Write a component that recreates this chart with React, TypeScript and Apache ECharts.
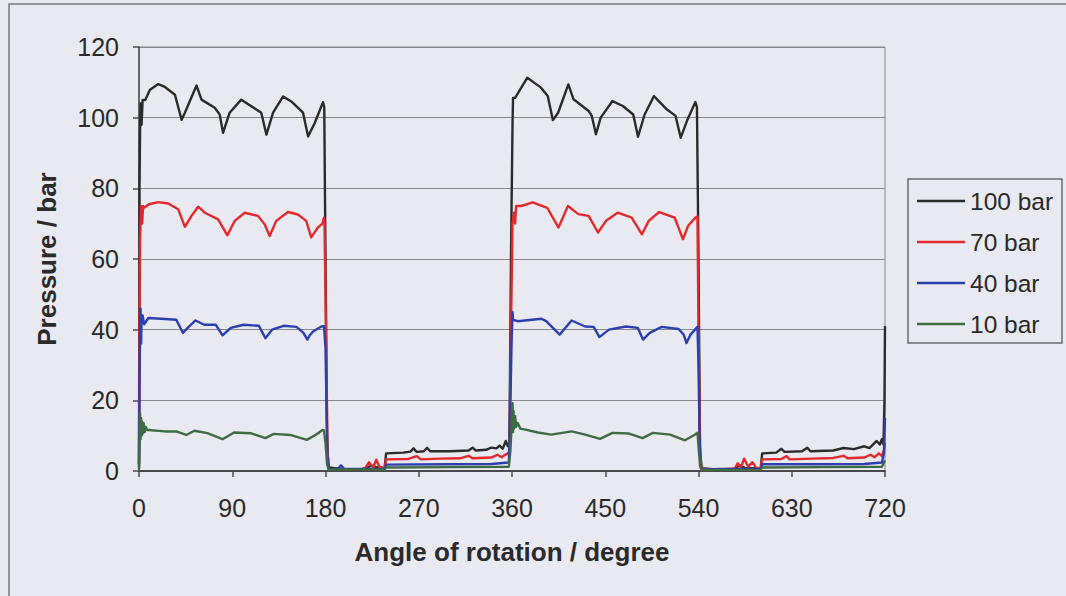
import React, { useEffect, useRef } from "react";
import * as echarts from "echarts";

const seriesNames = ["100 bar", "70 bar", "40 bar", "10 bar"];
const seriesColors = ["#2b2b2b", "#e3292b", "#2c3fae", "#3f6b42"];
const xTicks = { min: 0, max: 720, interval: 90 };
const yTicks = { min: 0, max: 120, interval: 20 };

const p100: [number, number][] = [
  [0, 2], [0.5, 80], [1, 96], [1.5, 104], [2.5, 98], [3.5, 105], [6, 105], [10.6, 107.9], [18.6, 109.5], [25, 108.7],
  [34.7, 106.5], [41.1, 99.4], [44.3, 101.4], [55.5, 109.1], [60.3, 105.1], [73.1, 102.8], [77.9, 100.9], [81.1, 95.7],
  [87.5, 101.4], [98.7, 105.1], [118, 101.4], [123, 95.2], [129.4, 101.4], [139.1, 106], [147, 104.6], [158.3, 101.4],
  [163.2, 94.7], [169.6, 98.5], [177.6, 104.4], [178.8, 103], [180, 60], [181.5, 8], [183, 1], [195, 0.6], [215, 0.5],
  [225, 1.5], [232, 0.8], [237, 0.8], [238.5, 5], [255, 5.2], [262, 5.5], [265, 6.4], [268, 5.4], [275, 5.6], [278, 6.6],
  [281, 5.6], [300, 5.6], [318, 5.8], [322, 6.6], [325, 5.8], [335, 6], [340, 6.6], [345, 6.4], [348, 7.2], [351, 6.3],
  [354, 8.5], [356, 7], [357.5, 8], [359, 60], [360.5, 98], [361, 105.6], [363, 105.6], [374.8, 111.3], [388, 108.5],
  [394.5, 106.1], [399.5, 99.3], [404.5, 101.4], [414.4, 109.4], [419.4, 105.2], [434, 101.9], [437, 100.5], [441, 95.3],
  [445.6, 100], [457, 104.7], [467, 103.3], [477, 100.9], [481.6, 94.6], [488, 100.9], [497, 106.1], [509.6, 102.3],
  [517.9, 100.5], [522.8, 94.3], [529.4, 99.5], [537, 104.4], [538.5, 103], [540, 60], [541.5, 6], [543, 0.8], [560, 0.4],
  [575, 0.6], [580, 1.6], [585, 0.8], [600, 0.8], [601.5, 5], [615, 5.2], [620, 6.3], [623, 5.4], [640, 5.6], [645, 6.6],
  [648, 5.6], [670, 5.8], [680, 6.5], [690, 6.2], [700, 7], [705, 6.5], [712, 8.5], [715, 7.5], [717, 9], [718.5, 7.5],
  [719.5, 20], [720, 41],
];

const p70: [number, number][] = [
  [0, 2], [0.5, 40], [1, 65], [2, 75], [3, 70], [4, 75], [5, 74.5], [9.7, 75.5], [18.6, 76.1], [28.2, 75.7], [37.8, 74.1],
  [44.3, 69.1], [50.7, 72.2], [57.1, 74.8], [63.5, 73.1], [76.4, 71.2], [85.3, 66.7], [92.4, 70.8], [102, 73.1],
  [114.9, 72.2], [121.3, 69.8], [126.1, 66.5], [132.5, 70.8], [143.8, 73.3], [153.4, 72.6], [161.4, 70.8], [166.2, 66.1],
  [172.6, 68.9], [177, 70], [178.4, 71.7], [179, 71], [180.5, 40], [182, 5], [183.5, 0.6], [200, 0.5], [218, 0.6],
  [222, 2.5], [226, 1], [229, 3.2], [232, 1.2], [237, 0.8], [238.5, 3.3], [260, 3.4], [268, 4.2], [272, 3.3], [290, 3.5],
  [310, 3.6], [318, 4.3], [322, 3.6], [340, 3.8], [346, 4.6], [350, 3.9], [353, 4.5], [356, 5], [357.5, 5.5], [359, 40],
  [360.5, 70], [362, 73.1], [363, 70], [364, 75], [369, 75], [380, 76], [394, 74.5], [404.9, 68.9], [414, 75], [424, 72.7],
  [434, 72.2], [443, 67.5], [450.8, 70.8], [462, 73.1], [475.5, 71.7], [485.4, 67], [492, 70.8], [502, 73.3], [517, 71.7],
  [525, 65.6], [530, 69.4], [537, 71.7], [539, 72], [540, 40], [541.5, 5], [543, 0.5], [565, 0.5], [575, 0.7], [578, 2.2],
  [581, 1], [584, 3.5], [588, 1.2], [592, 2.5], [596, 0.8], [600, 0.8], [601.5, 3.3], [620, 3.4], [625, 4.2], [628, 3.3],
  [650, 3.5], [670, 3.7], [680, 4.3], [684, 3.6], [700, 3.8], [706, 4.6], [710, 3.9], [714, 5], [717, 4.2], [719, 6],
  [720, 8],
];

const p40: [number, number][] = [
  [0, 1], [0.5, 25], [1, 38], [1.5, 46], [2, 36], [2.5, 42.4], [3.5, 44], [5, 41.5], [9, 43.3], [25, 43], [36, 42.8],
  [42.4, 39.1], [47, 40.5], [54.5, 42.6], [63, 41.4], [74, 41.4], [80.6, 38.4], [88.6, 40.5], [101, 41.4], [115.7, 41.1],
  [122, 37.6], [128.4, 40], [139.6, 41.1], [152, 40.8], [158.7, 39.1], [162.5, 37.2], [165, 38.5], [168, 39.5],
  [176, 40.9], [178.5, 41], [180, 35], [181, 18], [182, 3], [183.5, 0.5], [192, 0.6], [195, 1.6], [198, 0.6], [237, 0.6],
  [238.5, 1.8], [300, 1.9], [340, 2.0], [357, 2.4], [358.5, 20], [359.5, 35], [360.5, 45], [361, 42.8], [365.5, 42.4],
  [388.4, 43.1], [393, 42.4], [406, 38.6], [417.5, 42.6], [430.6, 40.9], [438.8, 40.8], [444.4, 37.9], [453.6, 40],
  [470, 40.9], [481.5, 40.5], [486.4, 37.2], [493, 39.1], [504.4, 40.8], [520.8, 40.2], [525.7, 38.6], [528.4, 36.2],
  [532.3, 38.6], [539, 40.8], [540, 30], [541, 10], [542, 1], [543.5, 0.4], [560, 0.6], [600, 0.6], [601.5, 1.9],
  [660, 1.9], [700, 2.0], [717, 2.4], [719, 5], [720, 15],
];

const p10: [number, number][] = [
  [0, 0.5], [0.5, 8], [1, 16.4], [1.5, 9], [2, 15], [2.5, 10], [3, 14], [3.5, 10.5], [4.5, 13.5], [5.5, 11], [6.5, 12.5],
  [8, 11.6], [9, 11.6], [25, 11.2], [36, 11.2], [45.6, 10.2], [53.5, 11.4], [66, 10.7], [80.6, 9], [91.8, 10.9],
  [107.7, 10.7], [122, 9.3], [130, 10.5], [146, 10.2], [162, 8.8], [171.5, 10.4], [177, 11.6], [178.5, 11.5], [180, 8],
  [181.5, 2], [183, 0.4], [237, 0.5], [238.5, 1.0], [300, 1.1], [357, 1.2], [358.5, 6], [359.5, 12], [360.5, 19.2],
  [361, 11], [361.5, 17], [362, 12], [363, 15.5], [364, 12.5], [365.5, 13.6], [368, 12], [373, 11.7], [385, 10.9],
  [398, 10.3], [417.5, 11.2], [430.6, 10.3], [445, 9.1], [457, 10.8], [473, 10.6], [486, 9.3], [496, 10.8], [512.6, 10.3],
  [527, 8.7], [536, 10.2], [539, 10.8], [540, 7], [541.5, 1.5], [543, 0.3], [600, 0.4], [601.5, 1.0], [660, 1.1],
  [717, 1.2], [720, 3],
];

const allData = [p100, p70, p40, p10];

const FONT = "'Liberation Sans', Arial, Helvetica, sans-serif";

export default function App() {
  const ref = useRef<HTMLDivElement>(null);
  useEffect(() => {
    if (!ref.current) return;
    const chart = echarts.init(ref.current, null, { renderer: "svg" });
    chart.setOption({
      animation: false,
      backgroundColor: "#e9e9f1",
      textStyle: { fontFamily: FONT },
      graphic: [
        {
          type: "rect",
          shape: { x: 9, y: 4, width: 1070, height: 600 },
          style: { fill: "none", stroke: "#7a7a80", lineWidth: 1.5 },
          silent: true,
        },
        {
          type: "rect",
          shape: { x: 908, y: 179, width: 154, height: 164 },
          style: { fill: "none", stroke: "#6a6a70", lineWidth: 1.5 },
          silent: true,
        },
      ],
      grid: {
        left: 139,
        right: 181,
        top: 47,
        bottom: 125,
        show: true,
        borderColor: "#8a8a8e",
        borderWidth: 1,
        backgroundColor: "transparent",
      },
      legend: {
        orient: "vertical",
        left: 917,
        top: 188.5,
        padding: 0,
        itemGap: 16,
        itemWidth: 48,
        itemHeight: 2.5,
        icon: "rect",
        data: seriesNames,
        textStyle: { fontSize: 24.5, color: "#2a2a2a", fontFamily: FONT, lineHeight: 25 },
      },
      xAxis: {
        type: "value",
        min: xTicks.min,
        max: xTicks.max,
        interval: xTicks.interval,
        name: "Angle of rotation / degree",
        nameLocation: "middle",
        nameGap: 68,
        nameTextStyle: { fontSize: 26, fontWeight: "bold", color: "#2a2a2a", fontFamily: FONT },
        axisLine: { show: true, lineStyle: { color: "#4a4a4e", width: 2 } },
        axisTick: { show: true, length: 6, lineStyle: { color: "#4a4a4e", width: 1.5 } },
        axisLabel: { fontSize: 25, color: "#2a2a2a", margin: 24, fontFamily: FONT },
        splitLine: { show: false },
      },
      yAxis: {
        type: "value",
        min: yTicks.min,
        max: yTicks.max,
        interval: yTicks.interval,
        name: "Pressure / bar",
        nameLocation: "middle",
        nameRotate: 90,
        nameGap: 79,
        nameTextStyle: { fontSize: 26, fontWeight: "bold", color: "#2a2a2a", fontFamily: FONT },
        axisLine: { show: true, lineStyle: { color: "#4a4a4e", width: 1.5 } },
        axisTick: { show: true, length: 6, lineStyle: { color: "#4a4a4e", width: 1.5 } },
        axisLabel: { fontSize: 25, color: "#2a2a2a", margin: 20, fontFamily: FONT },
        splitLine: { show: true, lineStyle: { color: "#8a8a8e", width: 1 } },
      },
      series: allData.map((d, i) => ({
        name: seriesNames[i],
        type: "line",
        data: d,
        showSymbol: false,
        symbol: "none",
        lineStyle: { color: seriesColors[i], width: 2.4, join: "round" },
        itemStyle: { color: seriesColors[i] },
        z: 2 + i,
      })),
    });
    return () => chart.dispose();
  }, []);
  return (
    <div
      ref={ref}
      style={{ position: "fixed", left: 0, top: 0, width: 1066, height: 596 }}
    />
  );
}
